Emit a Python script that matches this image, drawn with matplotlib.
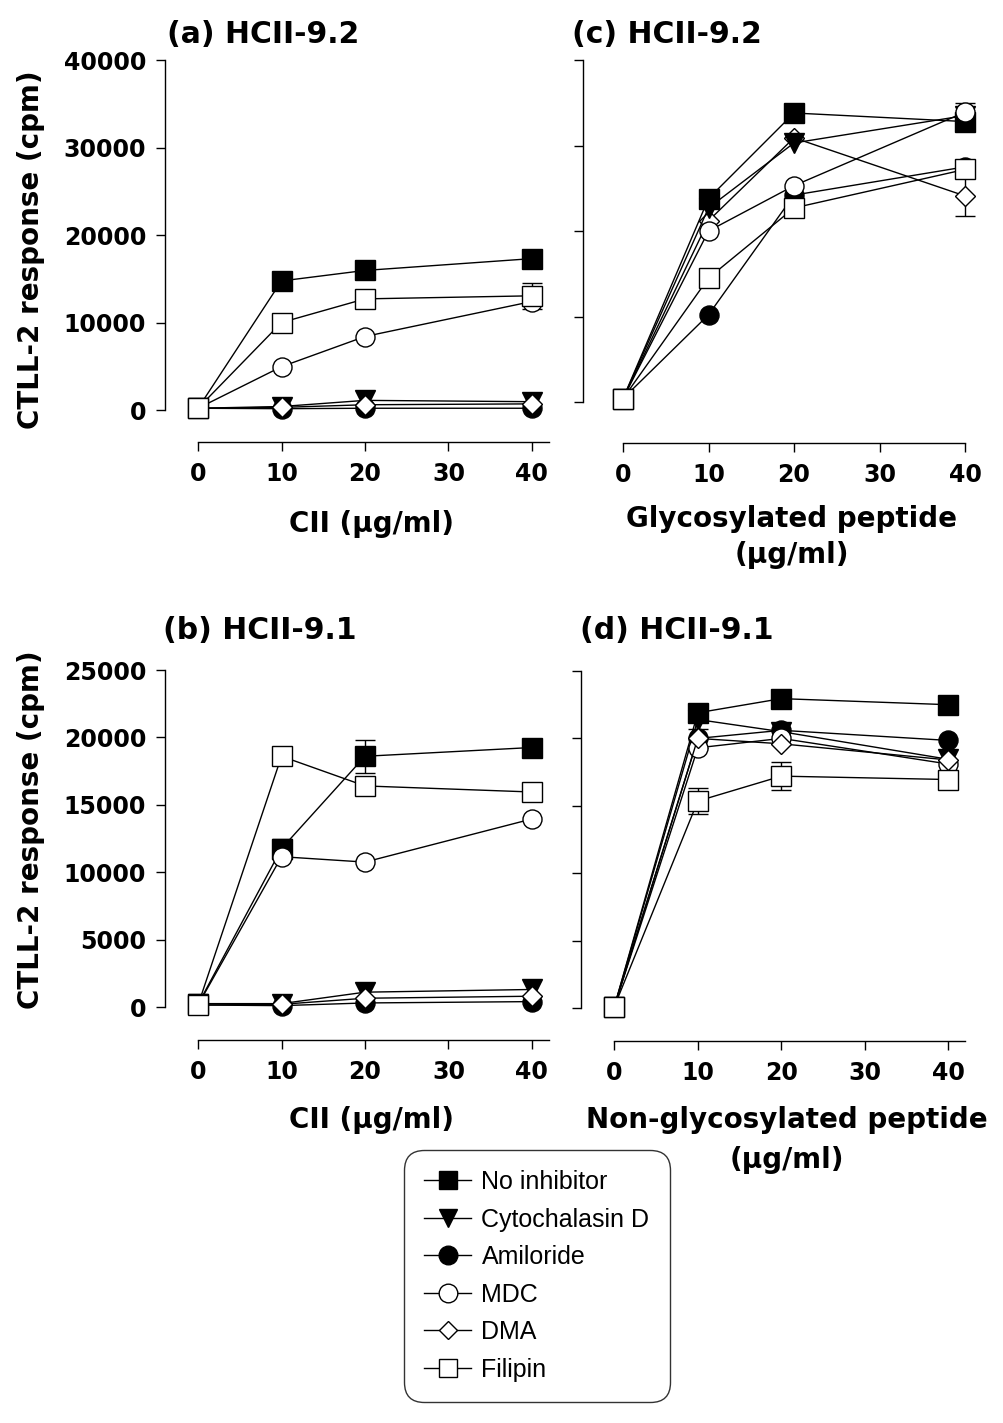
import matplotlib
matplotlib.use("Agg")
import matplotlib.pyplot as plt
from matplotlib.lines import Line2D
import numpy as np

# ---------------- data ----------------
conc = [0, 10, 20, 40]
series_names = ["No inhibitor", "Cytochalasin D", "Amiloride", "MDC", "DMA", "Filipin"]

# (a) HCII-9.2, CII
a_no_inh = [200, 14750, 15950, 17300]
a_cyto = [200, 400, 1100, 950]
a_amil = [200, 150, 200, 200]
a_mdc = [200, 4950, 8400, 12400]
a_dma = [200, 300, 600, 700]
a_fil = [200, 10000, 12700, 13050]
a_fil_err = [0, 0, 0, 1500]

# (c) HCII-9.2, glycosylated peptide
c_no_inh = [400, 23800, 33800, 32800]
c_cyto = [400, 22700, 30300, 33500]
c_amil = [400, 10200, 24200, 27500]
c_mdc = [400, 20000, 25300, 33900]
c_mdc_err = [0, 0, 0, 1100]
c_dma = [400, 21200, 30900, 24100]
c_dma_err = [0, 0, 0, 2300]
c_fil = [400, 14500, 22700, 27200]

# (b) HCII-9.1, CII
b_no_inh = [200, 11750, 18600, 19250]
b_no_inh_err = [0, 740, 1240, 0]
b_cyto = [250, 250, 1100, 1300]
b_amil = [150, 100, 300, 400]
b_mdc = [150, 11150, 10750, 13950]
b_dma = [150, 200, 650, 800]
b_fil = [150, 18600, 16400, 15950]

# (d) HCII-9.1, non-glycosylated peptide
d_no_inh = [100, 21900, 22950, 22500]
d_cyto = [100, 21400, 20500, 18450]
d_amil = [100, 20000, 20600, 19850]
d_mdc = [100, 19300, 20000, 18100]
d_dma = [100, 20000, 19600, 18400]
d_dma_err = [0, 700, 0, 0]
d_fil = [100, 15350, 17200, 16950]
d_fil_err = [0, 950, 1050, 0]

x_ticks = [0, 10, 20, 30, 40]
y_ticks_top = [0, 10000, 20000, 30000, 40000]
y_ticks_bottom = [0, 5000, 10000, 15000, 20000, 25000]

# ---------------- style ----------------
W, H = 1004, 1423
styles = {
    "No inhibitor": dict(marker="s", mfc="black", ms=13.7),
    "Cytochalasin D": dict(marker="v", mfc="black", ms=13.7),
    "Amiloride": dict(marker="o", mfc="black", ms=13.7),
    "MDC": dict(marker="o", mfc="white", ms=13.7),
    "DMA": dict(marker="D", mfc="white", ms=9.7),
    "Filipin": dict(marker="s", mfc="white", ms=13.7),
}

fig = plt.figure(figsize=(W / 100, H / 100), dpi=100)


def add_axes(left, right, top, bottom):
    return fig.add_axes([left / W, 1 - bottom / H, (right - left) / W, (bottom - top) / H])


def draw_panel(ax, data, errs, xlim, ylim, yticks, xbound, show_ylabels, order=None):
    zmap = {}
    if order is not None:
        for k, n in enumerate(order):
            zmap[n] = 2 + k * 0.1
    for k, (name, vals) in enumerate(zip(series_names, data)):
        z = zmap.get(name, 2 + k * 0.1)
        err = errs.get(name)
        if err is not None:
            idx = [i for i, e in enumerate(err) if e > 0]
            ax.errorbar([conc[i] for i in idx], [vals[i] for i in idx],
                        yerr=[err[i] for i in idx], fmt="none", ecolor="black",
                        elinewidth=1.0, capsize=7.2, capthick=1.0, zorder=1, clip_on=False)
        st = styles[name]
        ax.plot(conc, vals, color="black", lw=1.0, marker=st["marker"], ms=st["ms"],
                mfc=st["mfc"], mec="black", mew=1.0, zorder=z, clip_on=False)
    ax.set_xlim(*xlim)
    ax.set_ylim(*ylim)
    for s in ["top", "right"]:
        ax.spines[s].set_visible(False)
    ax.spines["left"].set_bounds(0, yticks[-1])
    ax.spines["bottom"].set_bounds(*xbound)
    for s in ["left", "bottom"]:
        ax.spines[s].set_linewidth(1.0)
    ax.set_xticks(x_ticks)
    ax.set_yticks(yticks)
    ax.tick_params(axis="both", length=6.5, width=1.0, labelsize=17, pad=7)
    ax.tick_params(axis="x", pad=8)
    for lab in ax.get_xticklabels() + ax.get_yticklabels():
        lab.set_fontweight("bold")
    if not show_ylabels:
        ax.set_yticklabels([])
    ax.patch.set_visible(False)


ax_a = add_axes(165, 549, 60, 442)
draw_panel(ax_a, [a_no_inh, a_cyto, a_amil, a_mdc, a_dma, a_fil], {"Filipin": a_fil_err},
           (-3.96, 42.05), (-3657, 40000), y_ticks_top, (0, 42), True)

ax_c = add_axes(583, 983, 60, 443)
draw_panel(ax_c, [c_no_inh, c_cyto, c_amil, c_mdc, c_dma, c_fil],
           {"MDC": c_mdc_err, "DMA": c_dma_err},
           (-4.68, 42.1), (-4795, 40000), y_ticks_top, (0, 40), False,
           order=["DMA", "No inhibitor", "Cytochalasin D", "Amiloride", "MDC", "Filipin"])

ax_b = add_axes(165, 549, 670, 1040)
draw_panel(ax_b, [b_no_inh, b_cyto, b_amil, b_mdc, b_dma, b_fil], {"No inhibitor": b_no_inh_err},
           (-3.96, 42.05), (-2448, 25000), y_ticks_bottom, (0, 42), True)

ax_d = add_axes(581, 965, 671, 1041)
draw_panel(ax_d, [d_no_inh, d_cyto, d_amil, d_mdc, d_dma, d_fil],
           {"DMA": d_dma_err, "Filipin": d_fil_err},
           (-3.99, 42.0), (-2448, 25000), y_ticks_bottom, (0, 42), True)
ax_d.set_yticklabels([])

# ---------------- texts ----------------
bold = dict(fontweight="bold", color="black")
fig.text(167 / W, 1 - 43 / H, "(a) HCII-9.2", fontsize=21.5, ha="left", va="baseline", **bold)
fig.text(572 / W, 1 - 43 / H, "(c) HCII-9.2", fontsize=21.5, ha="left", va="baseline", **bold)
fig.text(163 / W, 1 - 639 / H, "(b) HCII-9.1", fontsize=21.5, ha="left", va="baseline", **bold)
fig.text(580 / W, 1 - 639 / H, "(d) HCII-9.1", fontsize=21.5, ha="left", va="baseline", **bold)

fig.text(31 / W, 1 - 250 / H, "CTLL-2 response (cpm)", rotation=90, fontsize=20,
         ha="center", va="center", **bold)
fig.text(31 / W, 1 - 830 / H, "CTLL-2 response (cpm)", rotation=90, fontsize=20,
         ha="center", va="center", **bold)

fig.text(372 / W, 1 - 524 / H, "CII (µg/ml)", fontsize=20, ha="center", va="center", **bold)
fig.text(372 / W, 1 - 1120 / H, "CII (µg/ml)", fontsize=20, ha="center", va="center", **bold)
fig.text(792 / W, 1 - 537 / H, "Glycosylated peptide\n(µg/ml)", fontsize=20, ha="center",
         va="center", linespacing=1.4, **bold)
fig.text(787 / W, 1 - 1140 / H, "Non-glycosylated peptide\n(µg/ml)", fontsize=20, ha="center",
         va="center", linespacing=1.5, **bold)

# ---------------- legend ----------------
handles = [Line2D([0], [0], color="black", lw=1.0, marker=styles[n]["marker"],
                  ms=styles[n]["ms"] * 0.98, mfc=styles[n]["mfc"], mec="black", mew=1.0)
           for n in series_names]
leg = fig.legend(handles, series_names, loc="upper left",
                 bbox_to_anchor=(404 / W, 1 - 1150 / H), bbox_transform=fig.transFigure,
                 borderaxespad=0, frameon=True, fancybox=True, numpoints=1,
                 prop={"family": "Liberation Sans", "size": 18},
                 handlelength=1.9, handletextpad=0.4, labelspacing=0.54, borderpad=0.8)
leg.get_frame().set_edgecolor("black")
leg.get_frame().set_linewidth(1.0)
leg.legendPatch.set_boxstyle("round", pad=0, rounding_size=0.8)

fig.savefig("out.png", dpi=100)
